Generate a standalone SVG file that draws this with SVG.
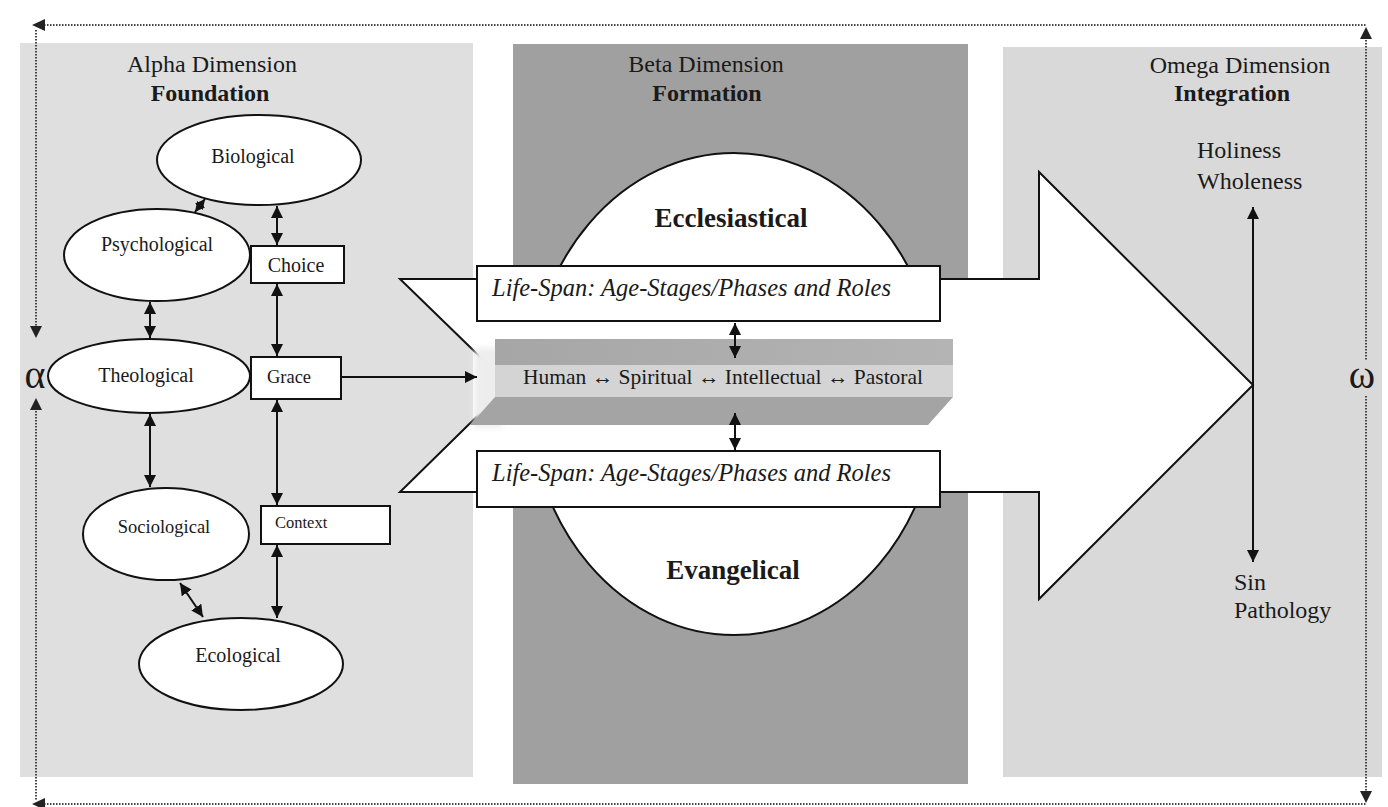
<svg xmlns="http://www.w3.org/2000/svg" width="1388" height="807" viewBox="0 0 1388 807">
<style>
.t{font-family:"Liberation Serif","Times New Roman",serif;fill:#1a1a1a}
.hd{font-size:24px}
.hb{font-size:24px;font-weight:bold}
.nd{font-size:20px}
.el{fill:#fff;stroke:#111;stroke-width:2}
.bx{fill:#fff;stroke:#111;stroke-width:2}
.ln{stroke:#111;stroke-width:2;fill:none}
.dot{stroke:#444;stroke-width:2;stroke-dasharray:1.5 1.5;fill:none}
.ls{font-size:24.5px;font-style:italic}
.big{font-size:27px;font-weight:bold}
</style>
<defs>
<marker id="ah" viewBox="0 0 12 12" markerWidth="12" markerHeight="12" refX="12" refY="6" orient="auto-start-reverse" markerUnits="userSpaceOnUse"><path d="M0,0 L12,6 L0,12 z" fill="#111"/></marker>
<marker id="as" viewBox="0 0 10 10" markerWidth="10" markerHeight="10" refX="10" refY="5" orient="auto-start-reverse" markerUnits="userSpaceOnUse"><path d="M0,0 L10,5 L0,10 z" fill="#111"/></marker>
<filter id="blur" x="-50%" y="-50%" width="200%" height="200%"><feGaussianBlur stdDeviation="3"/></filter>
<linearGradient id="topface" x1="0" y1="0" x2="1" y2="0"><stop offset="0" stop-color="#a6a6a6"/><stop offset="1" stop-color="#b4b4b4"/></linearGradient>
</defs>
<rect width="1388" height="807" fill="#fff"/>
<!-- panels -->
<g id="panels">
<rect x="20" y="43" width="453" height="734" fill="#dfdfdf"/>
<rect x="513" y="44" width="455" height="740" fill="#a0a0a0"/>
<rect x="1003" y="47" width="379" height="730" fill="#d9d9d9"/>
</g>
<!-- frame -->
<g id="frame">
<line class="dot" x1="44" y1="25" x2="1366" y2="25"/>
<line class="dot" x1="44" y1="804" x2="1366" y2="804"/>
<line class="dot" x1="36" y1="30" x2="36" y2="328"/>
<line class="dot" x1="36" y1="408" x2="36" y2="800"/>
<line class="dot" x1="1366" y1="37" x2="1366" y2="360"/>
<line class="dot" x1="1366" y1="396" x2="1366" y2="792"/>
<polygon points="32,25 45,19 45,31" fill="#222"/>
<polygon points="32,804 45,798 45,810" fill="#222"/>
<polygon points="36,338 30,326 42,326" fill="#222"/>
<polygon points="36,398 30,410 42,410" fill="#222"/>
<polygon points="1366,27 1360,39 1372,39" fill="#222"/>
<polygon points="1366,803 1360,791 1372,791" fill="#222"/>
<text class="t" x="35" y="388" font-size="40" text-anchor="middle">α</text>
<text class="t" x="1362" y="388" font-size="40" text-anchor="middle">ω</text>
</g>
<!-- headers -->
<g id="headers">
<text class="t hd" x="212" y="72" text-anchor="middle">Alpha Dimension</text>
<text class="t hb" x="210" y="101" text-anchor="middle">Foundation</text>
<text class="t hd" x="706" y="72" text-anchor="middle">Beta Dimension</text>
<text class="t hb" x="707" y="101" text-anchor="middle">Formation</text>
<text class="t hd" x="1240" y="73" text-anchor="middle">Omega Dimension</text>
<text class="t hb" x="1232" y="101" text-anchor="middle">Integration</text>
</g>
<!-- beta ellipse -->
<g id="beta-ellipse">
<ellipse class="el" cx="734" cy="394" rx="205" ry="241"/>
</g>
<!-- big arrow -->
<g id="big-arrow">
<polygon points="400,279 1039,279 1039,172 1253,385 1039,599 1039,492 400,492 509,385" fill="#fff" stroke="#111" stroke-width="2" stroke-linejoin="miter"/>
</g>
<g id="ecclesiastical"><text class="t big" x="731" y="227" text-anchor="middle" fill="#000">Ecclesiastical</text></g>
<g id="evangelical"><text class="t big" x="733" y="579" text-anchor="middle" fill="#000">Evangelical</text></g>
<!-- life-span boxes -->
<g id="lifespan-top">
<rect class="bx" x="477" y="266" width="463" height="55"/>
<text class="t ls" x="492" y="296">Life-Span: Age-Stages/Phases and Roles</text>
</g>
<g id="lifespan-bottom">
<rect class="bx" x="477" y="451" width="463" height="56"/>
<text class="t ls" x="492" y="481">Life-Span: Age-Stages/Phases and Roles</text>
</g>
<!-- formation bar -->
<g id="formation-bar">
<rect x="474" y="348" width="28" height="80" fill="#ededed" filter="url(#blur)"/>
<rect x="495" y="339" width="458" height="26" fill="url(#topface)"/>
<rect x="495" y="365" width="458" height="32" fill="#d4d4d4"/>
<polygon points="495,397 953,397 928,425 470,425" fill="#a4a4a4"/>
<text class="t" x="723" y="384" font-size="21.5" text-anchor="middle">Human ↔ Spiritual ↔ Intellectual ↔ Pastoral</text>
</g>
<!-- alpha nodes -->
<g id="biological"><ellipse class="el" cx="259" cy="160" rx="102" ry="45"/><text class="t nd" x="253" y="163" text-anchor="middle">Biological</text></g>
<g id="psychological"><ellipse class="el" cx="157" cy="255" rx="93" ry="46"/><text class="t nd" x="157" y="251" text-anchor="middle">Psychological</text></g>
<g id="theological"><ellipse class="el" cx="149" cy="376" rx="101" ry="37"/><text class="t nd" x="146" y="382" text-anchor="middle">Theological</text></g>
<g id="sociological"><ellipse class="el" cx="166" cy="534" rx="83" ry="46"/><text class="t" x="164" y="533" font-size="18.5" text-anchor="middle">Sociological</text></g>
<g id="ecological"><ellipse class="el" cx="241" cy="664" rx="102" ry="46"/><text class="t nd" x="238" y="662" text-anchor="middle">Ecological</text></g>
<g id="choice"><rect class="bx" x="251" y="246" width="93" height="37"/><text class="t" x="296" y="272" font-size="20" text-anchor="middle">Choice</text></g>
<g id="grace"><rect class="bx" x="251" y="357" width="90" height="42"/><text class="t" x="289" y="383" font-size="18.5" text-anchor="middle">Grace</text></g>
<g id="context"><rect class="bx" x="261" y="506" width="129" height="38"/><text class="t" x="275" y="528" font-size="16.5">Context</text></g>
<!-- connectors -->
<g id="connectors">
<line class="ln" x1="205" y1="199" x2="195" y2="212" marker-start="url(#as)" marker-end="url(#as)"/>
<line class="ln" x1="277" y1="206" x2="277" y2="245" marker-start="url(#ah)" marker-end="url(#ah)"/>
<line class="ln" x1="150" y1="302" x2="150" y2="338" marker-start="url(#ah)" marker-end="url(#ah)"/>
<line class="ln" x1="277" y1="284" x2="277" y2="356" marker-start="url(#ah)" marker-end="url(#ah)"/>
<line class="ln" x1="150" y1="414" x2="150" y2="487" marker-start="url(#ah)" marker-end="url(#ah)"/>
<line class="ln" x1="277" y1="400" x2="277" y2="505" marker-start="url(#ah)" marker-end="url(#ah)"/>
<line class="ln" x1="180" y1="583" x2="203" y2="617" marker-start="url(#ah)" marker-end="url(#ah)"/>
<line class="ln" x1="277" y1="545" x2="277" y2="618" marker-start="url(#ah)" marker-end="url(#ah)"/>
<line class="ln" x1="342" y1="377" x2="477" y2="377" marker-end="url(#ah)"/>
<line class="ln" x1="735" y1="323" x2="735" y2="358" marker-start="url(#ah)" marker-end="url(#ah)"/>
<line class="ln" x1="735" y1="413" x2="735" y2="450" marker-start="url(#ah)" marker-end="url(#ah)"/>
<line class="ln" x1="1253" y1="207" x2="1253" y2="562" marker-start="url(#ah)" marker-end="url(#ah)"/>
</g>
<!-- omega labels -->
<g id="holiness"><text class="t hd" x="1197" y="158">Holiness</text><text class="t hd" x="1197" y="189">Wholeness</text></g>
<g id="sin"><text class="t hd" x="1234" y="590">Sin</text><text class="t hd" x="1234" y="618">Pathology</text></g>
</svg>
